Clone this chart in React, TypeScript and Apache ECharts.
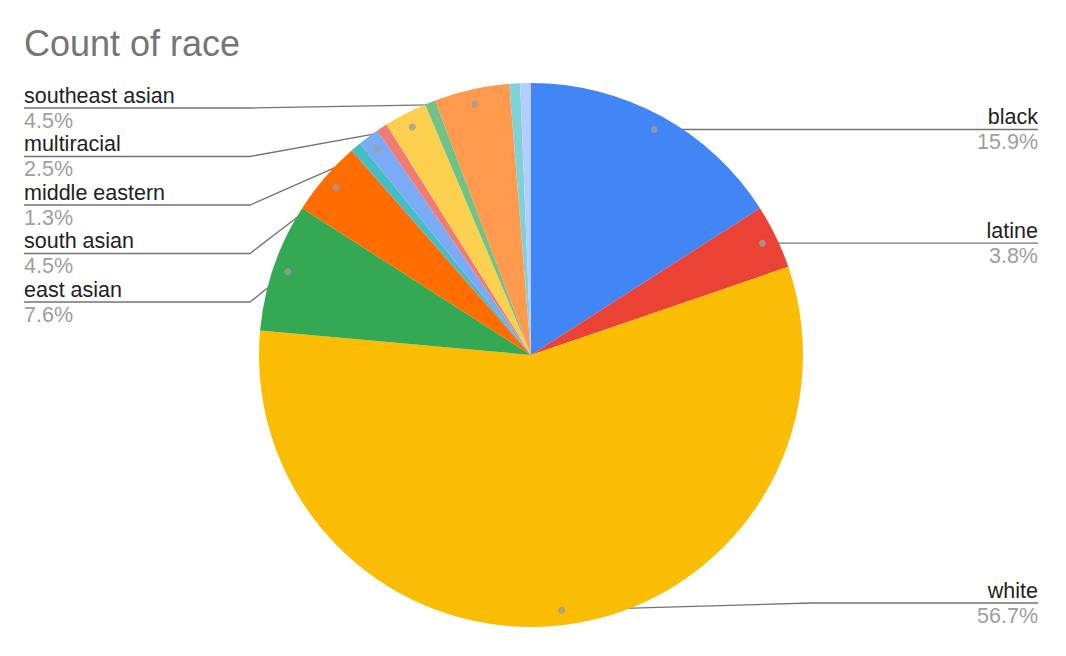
import React, { useEffect, useRef } from 'react';
import * as echarts from 'echarts';

const categories = [
  'black', 'latine', 'white', 'east asian', 'south asian', 'unlabeled 1',
  'middle eastern', 'unlabeled 2', 'multiracial', 'unlabeled 3',
  'southeast asian', 'unlabeled 4', 'unlabeled 5',
];
const counts = [25, 6, 89, 12, 7, 1, 2, 1, 4, 1, 7, 1, 1];
const colors = [
  '#4285f4', '#ea4335', '#fbbc04', '#34a853', '#ff6d01', '#46bdc6',
  '#7baaf7', '#f07b72', '#fcd04f', '#71c287', '#ff994d', '#7ed1d7', '#b3cefb',
];
const chartTitle = 'Count of race';

const W = 1066, H = 656, CX = 531, CY = 355, R = 272, DOT_R = 257;
const FONT = "'Liberation Sans', Arial, sans-serif";

export default function App() {
  const ref = useRef<HTMLDivElement>(null);
  useEffect(() => {
    const chart = echarts.init(ref.current!, null, { renderer: 'svg' });
    const total = counts.reduce((a, b) => a + b, 0);
    const starts: number[] = [];
    let acc = 0;
    counts.forEach((c) => { starts.push(acc); acc += c; });
    const mids = counts.map((c, i) => starts[i] + c / 2);
    const shown = counts.map((c) => c / total >= 0.01);
    const ang = (i: number) => (mids[i] / total) * 2 * Math.PI;
    const dotPos = (i: number) => [CX + DOT_R * Math.sin(ang(i)), CY - DOT_R * Math.cos(ang(i))];
    const leftIdx = counts.map((_, i) => i).filter((i) => shown[i] && Math.sin(ang(i)) < 0)
      .sort((a, b) => mids[b] - mids[a]);

    chart.setOption({
      animation: false,
      title: {
        text: chartTitle, left: 24, top: 25, padding: 0,
        textStyle: { fontSize: 36, color: '#757575', fontWeight: 'normal', fontFamily: FONT },
      },
      polar: { center: [CX, CY], radius: R },
      angleAxis: { type: 'value', min: 0, max: total, startAngle: 90, clockwise: true, show: false },
      radiusAxis: { type: 'value', min: 0, max: 1, show: false },
      series: [
        {
          type: 'pie',
          center: [CX, CY],
          radius: R,
          startAngle: 90,
          clockwise: true,
          avoidLabelOverlap: false,
          data: categories.map((n, i) => ({
            name: n, value: counts[i],
            itemStyle: { color: colors[i] },
            label: { show: shown[i] },
            labelLine: { show: shown[i] },
          })),
          label: {
            formatter: (p: any) => `{n|${p.name}}\n{p|${((p.value / total) * 100).toFixed(1)}%}`,
            rich: {
              n: { fontSize: 21.5, color: '#222222', lineHeight: 25, fontFamily: FONT },
              p: { fontSize: 21.5, color: '#9e9e9e', lineHeight: 25, fontFamily: FONT },
            },
          },
          labelLine: { lineStyle: { color: '#737373', width: 1.3 } },
          emphasis: { disabled: true },
          labelLayout: (params: any) => {
            const i = params.dataIndex;
            if (!shown[i]) return {};
            const [dx, dy] = dotPos(i);
            const left = Math.sin(ang(i)) < 0;
            if (left) {
              const k = leftIdx.indexOf(i);
              const ly = 108 + k * 48.5;
              return {
                x: 24, y: ly, align: 'left', verticalAlign: 'middle',
                labelLinePoints: [[dx, dy], [CX - R - 9, ly], [24, ly]],
              };
            }
            const ly = Math.min(dy, H - 53);
            return {
              x: W - 28, y: ly, align: 'right', verticalAlign: 'middle',
              labelLinePoints: [[dx, dy], [CX + R + 9, ly], [W - 28, ly]],
            };
          },
        },
        {
          type: 'scatter',
          coordinateSystem: 'polar',
          symbolSize: 7,
          silent: true,
          z: 10,
          itemStyle: { color: '#9e9e9e' },
          data: counts.map((_, i) => i).filter((i) => shown[i]).map((i) => [DOT_R / R, mids[i]]),
        },
      ],
    });
    return () => chart.dispose();
  }, []);
  return (
    <div ref={ref} style={{ position: 'fixed', left: 0, top: 0, width: W, height: H, background: '#fff' }} />
  );
}
